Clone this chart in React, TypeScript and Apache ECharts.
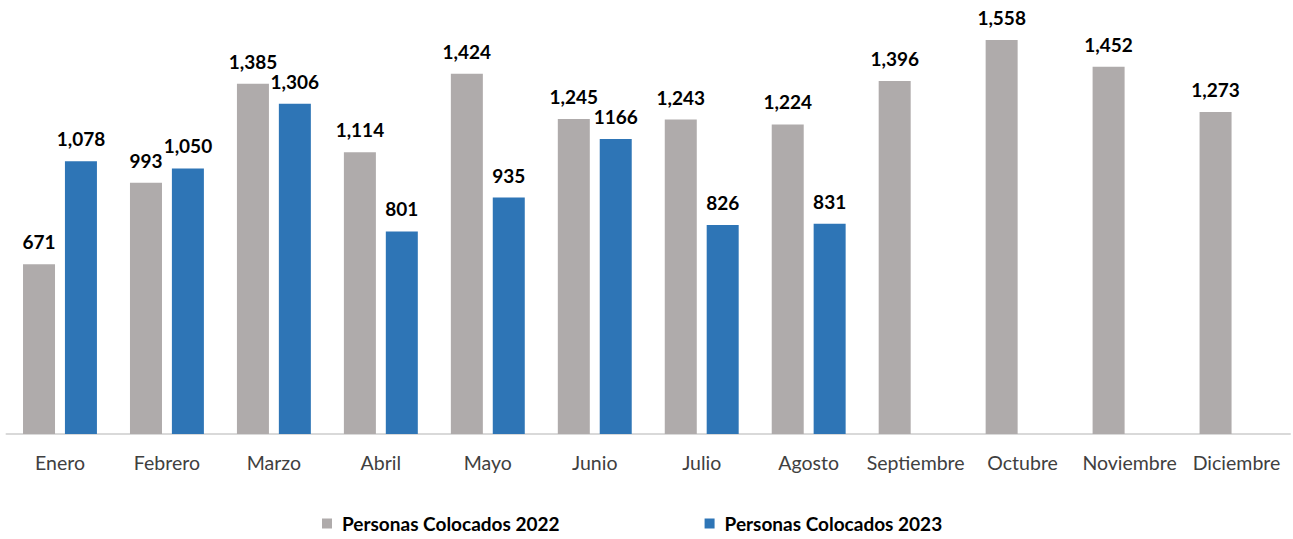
import React, { useEffect, useRef } from "react";
import * as echarts from "echarts";

const months = ["Enero", "Febrero", "Marzo", "Abril", "Mayo", "Junio", "Julio", "Agosto", "Septiembre", "Octubre", "Noviembre", "Diciembre"];
const values2022 = [671, 993, 1385, 1114, 1424, 1245, 1243, 1224, 1396, 1558, 1452, 1273];
const values2023 = [1078, 1050, 1306, 801, 935, 1166, 826, 831];
const labels2022 = ["671", "993", "1,385", "1,114", "1,424", "1,245", "1,243", "1,224", "1,396", "1,558", "1,452", "1,273"];
const labels2023 = ["1,078", "1,050", "1,306", "801", "935", "1166", "826", "831"];

const FONT = "Lato";

export default function App() {
  const ref = useRef<HTMLDivElement>(null);
  useEffect(() => {
    if (!ref.current) return;
    const chart = echarts.init(ref.current, null, { renderer: "svg" });
    const labelStyle = {
      show: true,
      position: "top" as const,
      distance: 13,
      fontFamily: FONT,
      fontWeight: "bold" as const,
      fontSize: 19,
      color: "#000000",
    };
    chart.setOption({
      animation: false,
      backgroundColor: "#ffffff",
      grid: { left: 6.5, right: 3, top: 4, bottom: 105 },
      legend: {
        bottom: 1,
        left: 317,
        itemWidth: 10,
        itemHeight: 10,
        itemGap: 145,
        icon: "rect",
        textStyle: { fontFamily: FONT, fontWeight: "bold", fontSize: 19, color: "#000000", padding: [0, 0, 0, 5] },
        data: ["Personas Colocados 2022", "Personas Colocados 2023"],
      },
      xAxis: {
        type: "category",
        data: months,
        axisLine: { show: true, lineStyle: { color: "#D9D9D9", width: 2 } },
        axisTick: { show: false },
        axisLabel: { fontFamily: FONT, fontSize: 19.5, color: "#404040", margin: 18, interval: 0 },
      },
      yAxis: {
        type: "value",
        min: 0,
        max: 1700,
        show: false,
        splitLine: { show: false },
      },
      series: [
        {
          name: "Personas Colocados 2022",
          type: "bar",
          data: values2022,
          barWidth: 32,
          barGap: "31%",
          itemStyle: { color: "#AFABAB" },
          label: { ...labelStyle, formatter: (p: any) => labels2022[p.dataIndex] },
        },
        {
          name: "Personas Colocados 2023",
          type: "bar",
          data: values2023,
          barWidth: 32,
          itemStyle: { color: "#2E75B6" },
          label: { ...labelStyle, formatter: (p: any) => labels2023[p.dataIndex] },
        },
      ],
    });
    return () => chart.dispose();
  }, []);
  return <div ref={ref} style={{ position: "absolute", left: 0, top: 0, width: 1293, height: 539 }} />;
}
